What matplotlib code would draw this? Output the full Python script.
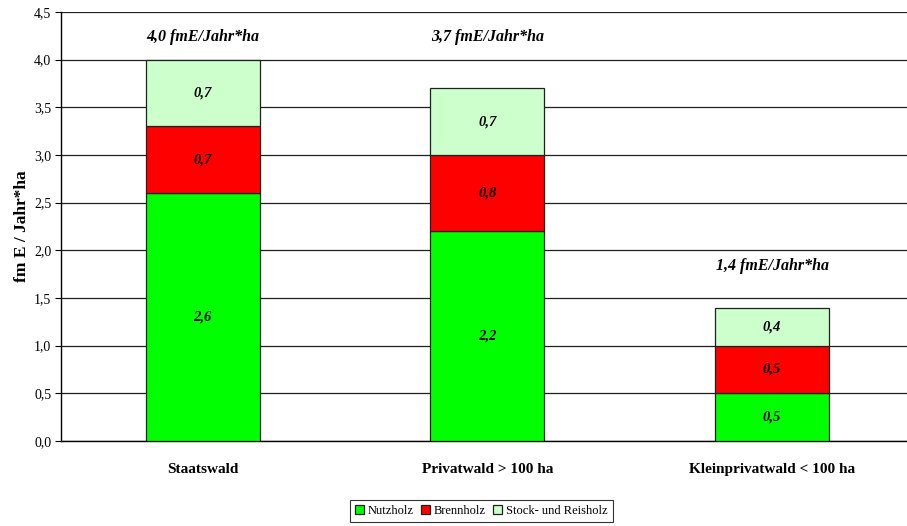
import matplotlib.pyplot as plt
from matplotlib.ticker import FuncFormatter

categories = ["Staatswald", "Privatwald > 100 ha", "Kleinprivatwald < 100 ha"]
nutzholz = [2.6, 2.2, 0.5]
brennholz = [0.7, 0.8, 0.5]
reisholz = [0.7, 0.7, 0.4]
totals = [4.0, 3.7, 1.4]
series_names = ["Nutzholz", "Brennholz", "Stock- und Reisholz"]
colors = ["#00FF00", "#FF0000", "#CCFFCC"]

# heights where the total labels sit
total_label_y = [4.24, 4.24, 1.84]


def de(v, pos=None):
    return f"{v:.1f}".replace(".", ",")


plt.rcParams["font.family"] = ["Liberation Serif", "DejaVu Serif"]

fig = plt.figure(figsize=(9.07, 5.26), dpi=100)
ax = fig.add_axes([61 / 907, 85 / 526, 846 / 907, 429 / 526])

x = list(range(len(categories)))
bottom = [0.0] * len(categories)
for vals, name, col in zip([nutzholz, brennholz, reisholz], series_names, colors):
    ax.bar(x, vals, width=0.4, bottom=bottom, color=col, edgecolor="#202020",
           linewidth=0.9, label=name, zorder=3)
    for xi, b, v in zip(x, bottom, vals):
        ax.text(xi, b + v / 2, de(v), ha="center", va="center", fontsize=10.5,
                fontweight="bold", style="italic", zorder=4)
    bottom = [b + v for b, v in zip(bottom, vals)]

for xi, t, ly in zip(x, totals, total_label_y):
    ax.text(xi, ly, f"{de(t)} fmE/Jahr*ha", ha="center", va="center",
            fontsize=11.5, fontweight="bold", style="italic")

ax.set_xlim(-0.498, 2.474)
ax.set_ylim(0, 4.5)
ax.set_yticks([i * 0.5 for i in range(10)])
ax.yaxis.set_major_formatter(FuncFormatter(de))
ax.grid(axis="y", color="#202020", linewidth=0.9, zorder=0)
ax.set_xticks(x)
ax.set_xticklabels(categories, fontsize=11, fontweight="bold")
ax.tick_params(axis="x", length=0, pad=16)
ax.tick_params(axis="y", labelsize=10, length=4, direction="out", pad=3)
for s in ["top", "right"]:
    ax.spines[s].set_visible(False)
for s in ["left", "bottom"]:
    ax.spines[s].set_color("black")
    ax.spines[s].set_linewidth(1.0)
ax.set_ylabel("fm E / Jahr*ha", fontsize=12.5, fontweight="bold", labelpad=3)

leg = ax.legend(loc="upper center", bbox_to_anchor=(0.497, -0.137), ncol=3,
                fontsize=9, frameon=True, fancybox=False, edgecolor="black",
                handlelength=0.7, handleheight=0.7, handletextpad=0.3,
                columnspacing=0.6, borderpad=0.4, borderaxespad=0)
leg.get_frame().set_linewidth(0.8)

fig.savefig("out.png", dpi=100)
